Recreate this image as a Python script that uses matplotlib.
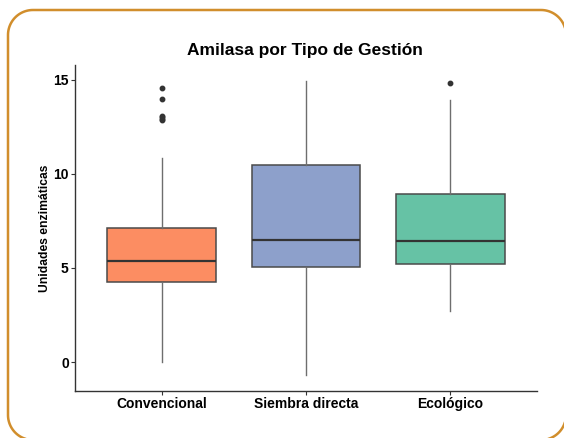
import matplotlib
matplotlib.use("Agg")
import matplotlib.pyplot as plt
import numpy as np
from matplotlib.lines import Line2D
from matplotlib.transforms import IdentityTransform

plt.rcParams['font.family'] = ['Liberation Sans', 'DejaVu Sans']

categories = ["Convencional", "Siembra directa", "Ecológico"]
q1 = [4.23, 5.04, 5.23]
median = [5.39, 6.48, 6.41]
q3 = [7.13, 10.46, 8.91]
whislo = [0.0, -0.67, 2.71]
whishi = [10.87, 14.95, 13.95]
outliers = [[14.56, 13.98, 13.1, 13.0, 12.9, 12.87], [], [14.84]]
colors = ["#FC8D62", "#8DA0CB", "#66C2A5"]
yticks = [0, 5, 10, 15]

W, H = 564, 438
fig = plt.figure(figsize=(W / 100, H / 100), dpi=100)
ax = fig.add_axes([75/W, 1-391/H, (537-75)/W, (391-65)/H])

stats = []
for i, c in enumerate(categories):
    stats.append(dict(label=c, q1=q1[i], med=median[i], q3=q3[i],
                      whislo=whislo[i], whishi=whishi[i], fliers=outliers[i]))

bp = ax.bxp(stats, positions=[1, 2, 3], widths=0.75, patch_artist=True,
            showcaps=False,
            boxprops=dict(edgecolor="#4a4a4a", linewidth=1.1),
            whiskerprops=dict(color="#6e6e6e", linewidth=1.0),
            medianprops=dict(color="#333333", linewidth=1.6),
            flierprops=dict(marker="o", markersize=3.2, markerfacecolor="#333333",
                            markeredgecolor="#333333", linestyle="none"))
for patch, col in zip(bp["boxes"], colors):
    patch.set_facecolor(col)

ax.set_xlim(0.4, 3.6)
ax.set_ylim(-1.54, 15.79)
ax.set_yticks(yticks)
ax.set_yticklabels([str(t) for t in yticks], fontsize=10, fontweight="bold")
ax.set_xticks([1, 2, 3])
ax.set_xticklabels(categories, fontsize=10, fontweight="bold")
ax.tick_params(axis="both", length=3, width=0.8, color="#333333", pad=1.5)
ax.tick_params(axis="x", pad=1)
for s in ["top", "right"]:
    ax.spines[s].set_visible(False)
for s in ["left", "bottom"]:
    ax.spines[s].set_color("#333333")
    ax.spines[s].set_linewidth(1.0)
ax.set_ylabel("Unidades enzimáticas", fontsize=8.7, fontweight="bold", labelpad=1.5)
fig.text(305/W, 1-50/H, "Amilasa por Tipo de Gestión", fontsize=12.5,
         fontweight="bold", ha="center", va="center")

# decorative rounded frame (pixel coords, top-down), right side off-canvas
r = 25
L, T, R, B = 8, 10, 566, 440
def arc(cx, cy, a0, a1):
    t = np.radians(np.linspace(a0, a1, 30))
    return cx + r * np.cos(t), cy + r * np.sin(t)
xs, ys = [], []
for (cx, cy, a0, a1) in [(R - r, T + r, 0, -90), (L + r, T + r, -90, -180),
                         (L + r, B - r, 180, 90), (R - r, B - r, 90, 0)]:
    ax_, ay_ = arc(cx, cy, a0, a1)
    xs.extend(ax_); ys.extend(ay_)
frame = Line2D(np.array(xs), H - np.array(ys), transform=IdentityTransform(),
               color="#D18E2C", linewidth=1.8, solid_capstyle="butt")
fig.add_artist(frame)

fig.savefig("out.png", dpi=100)
